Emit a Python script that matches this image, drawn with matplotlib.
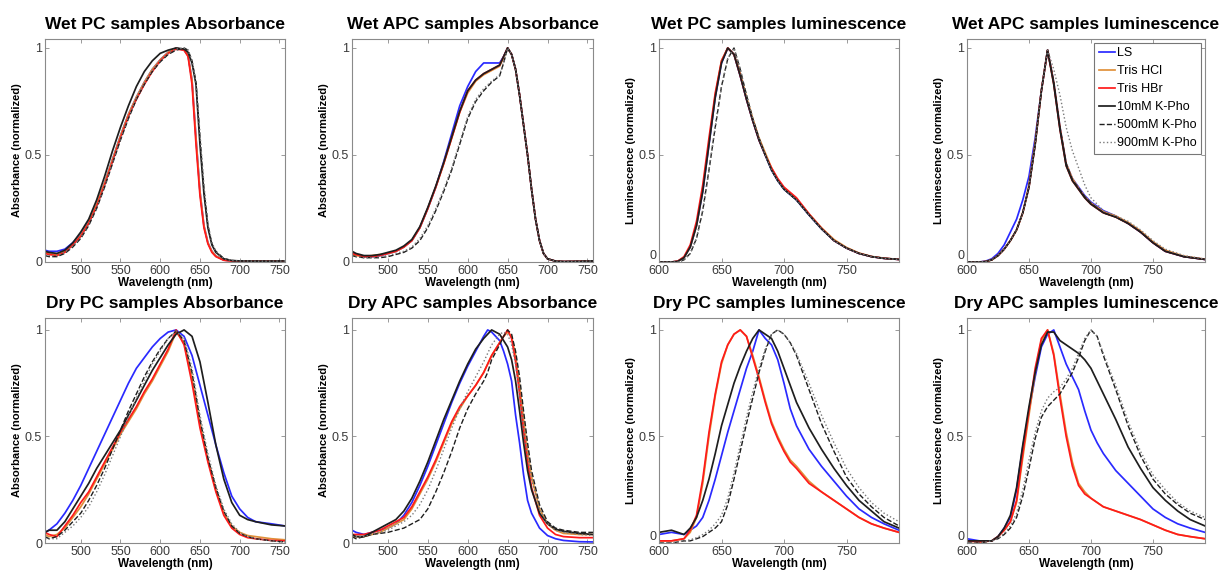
"""
Espectros normalizados de absorbancia y luminiscencia (PC / APC, húmedo y seco).
Ocho paneles 2x4, seis tampones por panel.
"""

import matplotlib
matplotlib.use("Agg")
import matplotlib.pyplot as plt

plt.rcParams.update({"font.family": ["Liberation Sans", "DejaVu Sans"],
                     "axes.edgecolor": "#8a8a8a", "axes.linewidth": 0.8})

SERIES = ["LS", "Tris HCl", "Tris HBr", "10mM K-Pho", "500mM K-Pho", "900mM K-Pho"]
COLORES = ["#2a2aff", "#e0913a", "#ff1a1a", "#1e1e1e", "#1e1e1e", "#7a7a7a"]
ESTILOS = ["-", "-", "-", "-", "--", ":"]

# --- Wet PC absorbance ---
wpa_x = [455, 460, 470, 480, 490, 500, 510, 520, 530, 540, 550, 560, 570, 580, 590, 600,
         610, 620, 630, 635, 640, 645, 650, 655, 660, 665, 670, 680, 690, 700, 720, 740, 757]
wpa_ls = [0.055, 0.05, 0.05, 0.06, 0.09, 0.13, 0.19, 0.27, 0.37, 0.48, 0.59, 0.69, 0.77, 0.84, 0.9, 0.945,
          0.98, 1.0, 0.99, 0.965, 0.85, 0.58, 0.33, 0.17, 0.09, 0.05, 0.028, 0.009, 0.005, 0.004, 0.004, 0.004, 0.005]
wpa_hcl = [0.045, 0.04, 0.035, 0.05, 0.08, 0.125, 0.185, 0.27, 0.37, 0.48, 0.59, 0.69, 0.77, 0.84, 0.9, 0.945,
           0.98, 1.0, 0.99, 0.965, 0.85, 0.58, 0.33, 0.17, 0.09, 0.05, 0.028, 0.009, 0.005, 0.004, 0.004, 0.004, 0.005]
wpa_hbr = [0.04, 0.035, 0.03, 0.045, 0.08, 0.12, 0.18, 0.26, 0.36, 0.47, 0.58, 0.68, 0.76, 0.83, 0.89, 0.94,
           0.975, 0.995, 0.99, 0.96, 0.83, 0.55, 0.31, 0.16, 0.085, 0.045, 0.025, 0.008, 0.005, 0.004, 0.004, 0.004, 0.005]
wpa_k10 = [0.05, 0.045, 0.04, 0.055, 0.09, 0.14, 0.2, 0.29, 0.4, 0.52, 0.63, 0.73, 0.82, 0.89, 0.94, 0.975,
           0.99, 1.0, 0.995, 0.98, 0.93, 0.83, 0.55, 0.32, 0.16, 0.08, 0.045, 0.015, 0.007, 0.005, 0.004, 0.004, 0.005]
wpa_k500 = [0.03, 0.025, 0.025, 0.04, 0.07, 0.11, 0.17, 0.25, 0.35, 0.46, 0.57, 0.67, 0.76, 0.83, 0.89, 0.935,
            0.97, 0.99, 1.0, 0.99, 0.94, 0.84, 0.58, 0.34, 0.17, 0.085, 0.05, 0.016, 0.007, 0.005, 0.004, 0.004, 0.005]
wpa_k900 = [0.035, 0.03, 0.03, 0.045, 0.075, 0.115, 0.175, 0.255, 0.355, 0.465, 0.575, 0.675, 0.765, 0.835, 0.895, 0.94,
            0.975, 0.995, 1.0, 0.99, 0.94, 0.84, 0.6, 0.36, 0.18, 0.09, 0.05, 0.016, 0.007, 0.005, 0.004, 0.004, 0.005]

# --- Wet APC absorbance ---
wapa_x = [455, 460, 470, 480, 490, 500, 510, 520, 530, 540, 550, 560, 570, 580, 590, 600, 610, 620,
          630, 640, 645, 650, 655, 660, 665, 670, 675, 680, 685, 690, 695, 700, 710, 720, 740, 757]
wapa_ls = [0.04, 0.035, 0.025, 0.025, 0.03, 0.04, 0.05, 0.07, 0.1, 0.16, 0.25, 0.35, 0.47, 0.6, 0.73, 0.82, 0.89, 0.93,
           0.93, 0.93, 0.96, 1.0, 0.97, 0.9, 0.78, 0.64, 0.5, 0.34, 0.2, 0.1, 0.04, 0.015, 0.004, 0.002, 0.003, 0.005]
wapa_hcl = [0.035, 0.03, 0.025, 0.03, 0.035, 0.04, 0.05, 0.07, 0.1, 0.16, 0.25, 0.35, 0.46, 0.58, 0.7, 0.79, 0.845, 0.875,
            0.895, 0.915, 0.955, 1.0, 0.97, 0.9, 0.78, 0.64, 0.5, 0.34, 0.2, 0.1, 0.04, 0.015, 0.004, 0.002, 0.003, 0.005]
wapa_hbr = [0.04, 0.035, 0.025, 0.025, 0.03, 0.04, 0.05, 0.07, 0.1, 0.16, 0.25, 0.35, 0.46, 0.58, 0.7, 0.8, 0.85, 0.88,
            0.9, 0.92, 0.96, 1.0, 0.97, 0.9, 0.78, 0.64, 0.5, 0.34, 0.2, 0.1, 0.04, 0.015, 0.004, 0.002, 0.003, 0.005]
wapa_k10 = [0.05, 0.04, 0.03, 0.03, 0.035, 0.045, 0.055, 0.075, 0.105, 0.165, 0.255, 0.355, 0.465, 0.585, 0.705, 0.8, 0.85, 0.88,
            0.9, 0.92, 0.96, 1.0, 0.97, 0.9, 0.78, 0.64, 0.5, 0.34, 0.2, 0.1, 0.04, 0.015, 0.004, 0.002, 0.003, 0.005]
wapa_k500 = [0.03, 0.025, 0.02, 0.02, 0.02, 0.025, 0.035, 0.045, 0.065, 0.1, 0.16, 0.24, 0.33, 0.43, 0.55, 0.67, 0.75, 0.8,
             0.84, 0.87, 0.93, 1.0, 0.97, 0.9, 0.78, 0.64, 0.5, 0.34, 0.2, 0.1, 0.04, 0.015, 0.004, 0.002, 0.003, 0.005]
wapa_k900 = [0.03, 0.025, 0.02, 0.02, 0.025, 0.03, 0.04, 0.05, 0.07, 0.11, 0.17, 0.25, 0.34, 0.44, 0.56, 0.68, 0.76, 0.81,
             0.845, 0.875, 0.935, 1.0, 0.97, 0.9, 0.78, 0.64, 0.5, 0.34, 0.2, 0.1, 0.04, 0.015, 0.004, 0.002, 0.003, 0.005]

# --- Wet PC luminescence ---
wpl_x = [600, 610, 615, 620, 625, 630, 635, 640, 645, 650, 655, 660, 665, 670, 675, 680, 685, 690, 695, 700,
         710, 720, 730, 740, 750, 760, 770, 780, 792]
wpl_ls = [0, 0, 0.003, 0.02, 0.07, 0.17, 0.33, 0.55, 0.77, 0.93, 1.0, 0.97, 0.87, 0.76, 0.66, 0.57, 0.5, 0.43, 0.38, 0.34,
          0.29, 0.22, 0.155, 0.1, 0.065, 0.04, 0.025, 0.017, 0.012]
wpl_hcl = [0, 0, 0.003, 0.02, 0.07, 0.17, 0.34, 0.56, 0.78, 0.94, 1.0, 0.97, 0.88, 0.77, 0.67, 0.58, 0.51, 0.44, 0.385, 0.345,
           0.295, 0.225, 0.16, 0.105, 0.068, 0.042, 0.026, 0.018, 0.012]
wpl_hbr = [0, 0, 0.004, 0.025, 0.08, 0.19, 0.36, 0.58, 0.79, 0.94, 1.0, 0.97, 0.87, 0.76, 0.66, 0.57, 0.5, 0.44, 0.39, 0.35,
           0.3, 0.225, 0.158, 0.1, 0.065, 0.04, 0.025, 0.017, 0.012]
wpl_k10 = [0, 0, 0.003, 0.02, 0.07, 0.17, 0.33, 0.55, 0.77, 0.93, 1.0, 0.97, 0.87, 0.76, 0.66, 0.57, 0.5, 0.43, 0.38, 0.34,
           0.29, 0.22, 0.155, 0.1, 0.065, 0.04, 0.025, 0.017, 0.012]
wpl_k500 = [0, 0, 0.0, 0.01, 0.04, 0.11, 0.24, 0.43, 0.63, 0.82, 0.95, 1.0, 0.9, 0.78, 0.67, 0.58, 0.5, 0.43, 0.38, 0.34,
            0.29, 0.22, 0.155, 0.1, 0.065, 0.04, 0.025, 0.017, 0.012]
wpl_k900 = [0, 0, 0.0, 0.01, 0.04, 0.11, 0.24, 0.43, 0.63, 0.82, 0.95, 1.0, 0.9, 0.78, 0.67, 0.58, 0.5, 0.43, 0.38, 0.34,
            0.29, 0.22, 0.155, 0.1, 0.065, 0.04, 0.025, 0.017, 0.012]

# --- Wet APC luminescence ---
wal_x = [600, 610, 615, 620, 625, 630, 635, 640, 645, 650, 655, 660, 665, 670, 675, 680, 685, 690, 695, 700,
         710, 720, 730, 740, 750, 760, 775, 792]
wal_ls = [0, 0, 0.004, 0.015, 0.04, 0.08, 0.14, 0.2, 0.29, 0.4, 0.58, 0.8, 0.99, 0.84, 0.63, 0.46, 0.39, 0.35, 0.31, 0.28,
          0.24, 0.215, 0.18, 0.14, 0.09, 0.05, 0.025, 0.012]
wal_hcl = [0, 0, 0.002, 0.01, 0.03, 0.06, 0.1, 0.15, 0.23, 0.36, 0.56, 0.8, 0.99, 0.84, 0.63, 0.46, 0.39, 0.345, 0.305, 0.275,
           0.235, 0.215, 0.185, 0.145, 0.095, 0.055, 0.027, 0.013]
wal_hbr = [0, 0, 0.002, 0.01, 0.03, 0.06, 0.1, 0.15, 0.23, 0.35, 0.55, 0.8, 0.99, 0.83, 0.62, 0.45, 0.38, 0.34, 0.3, 0.27,
           0.23, 0.21, 0.18, 0.14, 0.09, 0.05, 0.025, 0.012]
wal_k10 = [0, 0, 0.002, 0.01, 0.03, 0.06, 0.1, 0.15, 0.23, 0.35, 0.55, 0.8, 0.99, 0.83, 0.62, 0.45, 0.38, 0.34, 0.3, 0.27,
           0.23, 0.21, 0.18, 0.14, 0.09, 0.05, 0.025, 0.012]
wal_k500 = [0, 0, 0.002, 0.01, 0.03, 0.06, 0.1, 0.15, 0.23, 0.35, 0.55, 0.8, 0.99, 0.84, 0.63, 0.46, 0.385, 0.345, 0.305, 0.275,
            0.23, 0.21, 0.18, 0.14, 0.09, 0.05, 0.025, 0.012]
wal_k900 = [0, 0, 0.002, 0.01, 0.03, 0.06, 0.1, 0.15, 0.23, 0.35, 0.55, 0.8, 0.99, 0.9, 0.78, 0.63, 0.52, 0.44, 0.36, 0.3,
            0.24, 0.215, 0.19, 0.15, 0.1, 0.06, 0.03, 0.014]

# --- Dry PC absorbance ---
dpa_x = [455, 460, 470, 480, 490, 500, 510, 520, 530, 540, 550, 560, 570, 580, 590, 600, 610, 620, 630, 640,
         650, 660, 670, 680, 690, 700, 710, 720, 740, 757]
dpa_ls = [0.05, 0.06, 0.09, 0.14, 0.2, 0.27, 0.35, 0.43, 0.51, 0.59, 0.67, 0.75, 0.82, 0.87, 0.92, 0.96, 0.99, 1.0, 0.97, 0.88,
          0.74, 0.6, 0.46, 0.33, 0.22, 0.16, 0.12, 0.1, 0.09, 0.08]
dpa_hcl = [0.04, 0.03, 0.04, 0.07, 0.12, 0.17, 0.23, 0.3, 0.37, 0.44, 0.51, 0.57, 0.63, 0.7, 0.76, 0.83, 0.9, 0.99, 0.94, 0.77,
           0.56, 0.39, 0.25, 0.14, 0.08, 0.05, 0.035, 0.03, 0.02, 0.015]
dpa_hbr = [0.05, 0.04, 0.03, 0.08, 0.13, 0.19, 0.24, 0.31, 0.38, 0.45, 0.52, 0.58, 0.64, 0.71, 0.77, 0.84, 0.91, 1.0, 0.93, 0.75,
           0.54, 0.38, 0.24, 0.13, 0.07, 0.04, 0.025, 0.02, 0.012, 0.01]
dpa_k10 = [0.05, 0.06, 0.06, 0.1, 0.16, 0.22, 0.28, 0.35, 0.41, 0.47, 0.53, 0.6, 0.67, 0.74, 0.81, 0.87, 0.93, 0.98, 1.0, 0.97,
           0.85, 0.66, 0.46, 0.3, 0.19, 0.13, 0.11, 0.1, 0.085, 0.08]
dpa_k500 = [0.03, 0.02, 0.03, 0.06, 0.1, 0.14, 0.2, 0.27, 0.35, 0.44, 0.53, 0.62, 0.7, 0.78, 0.85, 0.91, 0.96, 0.995, 0.95, 0.8,
            0.58, 0.4, 0.26, 0.15, 0.08, 0.045, 0.03, 0.02, 0.01, 0.005]
dpa_k900 = [0.02, 0.02, 0.02, 0.05, 0.08, 0.12, 0.17, 0.24, 0.32, 0.41, 0.5, 0.59, 0.68, 0.76, 0.84, 0.9, 0.96, 0.995, 0.96, 0.82,
            0.6, 0.42, 0.27, 0.16, 0.09, 0.05, 0.03, 0.02, 0.01, 0.005]

# --- Dry APC absorbance ---
dapa_x = [455, 460, 470, 480, 490, 500, 510, 520, 530, 540, 550, 560, 570, 580, 590, 600, 610, 620, 625, 630,
          640, 645, 650, 655, 660, 665, 670, 675, 680, 690, 700, 710, 720, 740, 757]
dapa_ls = [0.06, 0.05, 0.04, 0.05, 0.06, 0.07, 0.09, 0.13, 0.19, 0.27, 0.36, 0.46, 0.56, 0.66, 0.75, 0.83, 0.9, 0.97, 1.0, 0.99,
           0.95, 0.9, 0.84, 0.76, 0.6, 0.47, 0.32, 0.2, 0.14, 0.07, 0.035, 0.02, 0.012, 0.006, 0.005]
dapa_hcl = [0.03, 0.03, 0.03, 0.04, 0.05, 0.07, 0.09, 0.11, 0.16, 0.23, 0.3, 0.38, 0.47, 0.56, 0.63, 0.69, 0.74, 0.8, 0.84, 0.88,
            0.94, 0.97, 0.99, 0.97, 0.88, 0.74, 0.58, 0.43, 0.31, 0.16, 0.09, 0.06, 0.045, 0.04, 0.04]
dapa_hbr = [0.04, 0.04, 0.04, 0.05, 0.06, 0.08, 0.1, 0.12, 0.17, 0.24, 0.31, 0.39, 0.48, 0.57, 0.64, 0.69, 0.74, 0.8, 0.84, 0.88,
            0.94, 0.97, 1.0, 0.96, 0.85, 0.7, 0.53, 0.38, 0.26, 0.13, 0.07, 0.04, 0.03, 0.025, 0.025]
dapa_k10 = [0.04, 0.03, 0.03, 0.05, 0.07, 0.09, 0.11, 0.15, 0.21, 0.29, 0.38, 0.48, 0.58, 0.67, 0.76, 0.84, 0.91, 0.96, 0.98, 1.0,
            0.98, 0.95, 0.92, 0.86, 0.76, 0.62, 0.47, 0.34, 0.25, 0.14, 0.09, 0.065, 0.055, 0.045, 0.04]
dapa_k500 = [0.03, 0.02, 0.03, 0.04, 0.045, 0.05, 0.06, 0.07, 0.09, 0.11, 0.16, 0.24, 0.33, 0.43, 0.54, 0.63, 0.7, 0.76, 0.8, 0.86,
             0.93, 0.97, 1.0, 0.98, 0.9, 0.78, 0.62, 0.47, 0.34, 0.18, 0.1, 0.07, 0.06, 0.05, 0.05]
dapa_k900 = [0.03, 0.03, 0.03, 0.04, 0.05, 0.06, 0.08, 0.1, 0.13, 0.18, 0.25, 0.34, 0.44, 0.54, 0.63, 0.71, 0.78, 0.85, 0.89, 0.93,
             0.98, 0.99, 0.98, 0.93, 0.84, 0.7, 0.55, 0.41, 0.3, 0.16, 0.09, 0.06, 0.05, 0.04, 0.035]

# --- Dry PC luminescence ---
dpl_x = [600, 610, 620, 625, 630, 635, 640, 645, 650, 655, 660, 665, 670, 675, 680, 685, 690, 695, 700, 705,
         710, 720, 730, 740, 750, 760, 770, 780, 792]
dpl_ls = [0.04, 0.05, 0.04, 0.06, 0.08, 0.12, 0.2, 0.3, 0.41, 0.52, 0.62, 0.72, 0.82, 0.9, 1.0, 0.96, 0.93, 0.86, 0.75, 0.63,
          0.55, 0.44, 0.36, 0.29, 0.22, 0.16, 0.12, 0.09, 0.06]
dpl_hcl = [0.01, 0.01, 0.02, 0.05, 0.12, 0.28, 0.5, 0.69, 0.84, 0.93, 0.98, 1.0, 0.97, 0.88, 0.78, 0.67, 0.57, 0.5, 0.44, 0.39,
           0.36, 0.29, 0.24, 0.2, 0.16, 0.12, 0.09, 0.07, 0.05]
dpl_hbr = [0.01, 0.01, 0.02, 0.06, 0.13, 0.3, 0.52, 0.7, 0.85, 0.93, 0.98, 1.0, 0.97, 0.87, 0.77, 0.66, 0.56, 0.49, 0.43, 0.38,
           0.35, 0.28, 0.24, 0.2, 0.16, 0.12, 0.09, 0.07, 0.05]
dpl_k10 = [0.05, 0.06, 0.04, 0.07, 0.12, 0.2, 0.3, 0.42, 0.55, 0.65, 0.75, 0.83, 0.9, 0.96, 1.0, 0.98, 0.96, 0.9, 0.82, 0.74,
           0.66, 0.54, 0.44, 0.35, 0.27, 0.2, 0.15, 0.1, 0.07]
dpl_k500 = [0.0, 0.0, 0.01, 0.01, 0.02, 0.03, 0.05, 0.07, 0.1, 0.18, 0.3, 0.43, 0.56, 0.68, 0.8, 0.9, 0.98, 1.0, 0.98, 0.94,
            0.88, 0.72, 0.56, 0.43, 0.31, 0.23, 0.17, 0.12, 0.08]
dpl_k900 = [0.0, 0.0, 0.01, 0.015, 0.025, 0.04, 0.06, 0.09, 0.13, 0.21, 0.33, 0.46, 0.59, 0.71, 0.82, 0.91, 0.98, 1.0, 0.98, 0.94,
            0.89, 0.75, 0.6, 0.47, 0.35, 0.26, 0.19, 0.14, 0.1]

# --- Dry APC luminescence ---
dal_x = [600, 610, 620, 625, 630, 635, 640, 645, 650, 655, 660, 665, 670, 675, 680, 685, 690, 695, 700, 705,
         710, 720, 730, 740, 750, 760, 770, 780, 792]
dal_ls = [0.02, 0.01, 0.01, 0.03, 0.07, 0.12, 0.25, 0.45, 0.62, 0.78, 0.92, 0.98, 1.0, 0.92, 0.84, 0.78, 0.72, 0.62, 0.53, 0.47,
          0.42, 0.34, 0.28, 0.22, 0.16, 0.12, 0.09, 0.07, 0.05]
dal_hcl = [0.01, 0.005, 0.01, 0.03, 0.06, 0.1, 0.19, 0.4, 0.6, 0.8, 0.95, 1.0, 0.89, 0.7, 0.52, 0.38, 0.28, 0.24, 0.21, 0.19,
           0.17, 0.15, 0.13, 0.11, 0.085, 0.06, 0.04, 0.03, 0.02]
dal_hbr = [0.01, 0.005, 0.01, 0.03, 0.06, 0.1, 0.2, 0.42, 0.62, 0.82, 0.96, 1.0, 0.88, 0.68, 0.5, 0.36, 0.27, 0.23, 0.21, 0.19,
           0.17, 0.15, 0.13, 0.11, 0.085, 0.06, 0.04, 0.03, 0.02]
dal_k10 = [0.01, 0.01, 0.01, 0.03, 0.07, 0.13, 0.26, 0.46, 0.64, 0.8, 0.93, 0.99, 0.99, 0.95, 0.93, 0.91, 0.89, 0.86, 0.82, 0.76,
           0.7, 0.58, 0.45, 0.35, 0.26, 0.2, 0.15, 0.11, 0.08]
dal_k500 = [0.0, 0.0, 0.01, 0.02, 0.04, 0.07, 0.12, 0.22, 0.35, 0.49, 0.59, 0.64, 0.67, 0.7, 0.75, 0.8, 0.87, 0.95, 1.0, 0.97,
            0.88, 0.72, 0.55, 0.41, 0.3, 0.23, 0.18, 0.14, 0.11]
dal_k900 = [0.0, 0.0, 0.01, 0.02, 0.045, 0.08, 0.14, 0.25, 0.39, 0.52, 0.62, 0.68, 0.71, 0.73, 0.77, 0.82, 0.89, 0.96, 1.0, 0.97,
            0.89, 0.74, 0.57, 0.43, 0.32, 0.25, 0.19, 0.15, 0.12]

ABS_TICKS = [500, 550, 600, 650, 700, 750]
LUM_TICKS = [600, 650, 700, 750]

PANELES = [
    ("Wet PC samples Absorbance", "Absorbance (normalized)", wpa_x,
     [wpa_ls, wpa_hcl, wpa_hbr, wpa_k10, wpa_k500, wpa_k900]),
    ("Wet APC samples Absorbance", "Absorbance (normalized)", wapa_x,
     [wapa_ls, wapa_hcl, wapa_hbr, wapa_k10, wapa_k500, wapa_k900]),
    ("Wet PC samples luminescence", "Luminescence (normalized)", wpl_x,
     [wpl_ls, wpl_hcl, wpl_hbr, wpl_k10, wpl_k500, wpl_k900]),
    ("Wet APC samples luminescence", "Luminescence (normalized)", wal_x,
     [wal_ls, wal_hcl, wal_hbr, wal_k10, wal_k500, wal_k900]),
    ("Dry PC samples Absorbance", "Absorbance (normalized)", dpa_x,
     [dpa_ls, dpa_hcl, dpa_hbr, dpa_k10, dpa_k500, dpa_k900]),
    ("Dry APC samples Absorbance", "Absorbance (normalized)", dapa_x,
     [dapa_ls, dapa_hcl, dapa_hbr, dapa_k10, dapa_k500, dapa_k900]),
    ("Dry PC samples luminescence", "Luminescence (normalized)", dpl_x,
     [dpl_ls, dpl_hcl, dpl_hbr, dpl_k10, dpl_k500, dpl_k900]),
    ("Dry APC samples luminescence", "Luminescence (normalized)", dal_x,
     [dal_ls, dal_hcl, dal_hbr, dal_k10, dal_k500, dal_k900]),
]

W, H = 1222, 571
COLS = [(45, 285), (352, 593), (659, 899), (967, 1205)]
FILAS = [(39, 262, 1.042), (318, 543, 1.056)]


def ejes(fig, izq, arriba, der, abajo):
    return fig.add_axes([izq / W, 1 - abajo / H, (der - izq) / W, (abajo - arriba) / H])


fig = plt.figure(figsize=(W / 100, H / 100), dpi=100)

for i, (titulo, ylabel, x, curvas) in enumerate(PANELES):
    fila, col = divmod(i, 4)
    arriba, abajo, ytop = FILAS[fila]
    izq, der = COLS[col]
    ax = ejes(fig, izq, arriba, der, abajo)
    for nombre, y, c, ls in zip(SERIES, curvas, COLORES, ESTILOS):
        lw = 1.25 if ls == "-" else 1.0
        ax.plot(x, y, color=c, linestyle=ls, linewidth=lw, label=nombre)
    lum = "Absorbance" not in titulo
    if lum:
        ax.set_xlim(600, 792)
        ax.set_xticks(LUM_TICKS)
    else:
        ax.set_xlim(455, 757)
        ax.set_xticks(ABS_TICKS)
    ax.set_ylim(0, ytop)
    ax.set_yticks([0, 0.5, 1])
    ax.set_yticklabels(["0", "0.5", "1"])
    ax.tick_params(direction="in", length=3, width=0.6, top=True, right=True,
                   color="#8a8a8a", labelcolor="#3a3a3a", labelsize=9, pad=2)
    if lum:
        # el "0" queda justo encima del "600", como en el original
        ax.get_yticklabels()[0].set_verticalalignment("bottom")
    ax.set_title(titulo, fontsize=12.5, fontweight="bold", pad=7)
    ax.set_xlabel("Wavelength (nm)", fontsize=8.5, fontweight="bold", labelpad=0)
    ax.set_ylabel(ylabel, fontsize=8, fontweight="bold", labelpad=2)
    if i == 3:
        leg = ax.legend(loc="upper right", fontsize=9, handlelength=1.3, handletextpad=0.2,
                        labelspacing=0.48, borderaxespad=0.3, borderpad=0.35, fancybox=False)
        leg.get_frame().set_edgecolor("#555555")
        leg.get_frame().set_linewidth(0.8)

fig.savefig("out.png", dpi=100)
